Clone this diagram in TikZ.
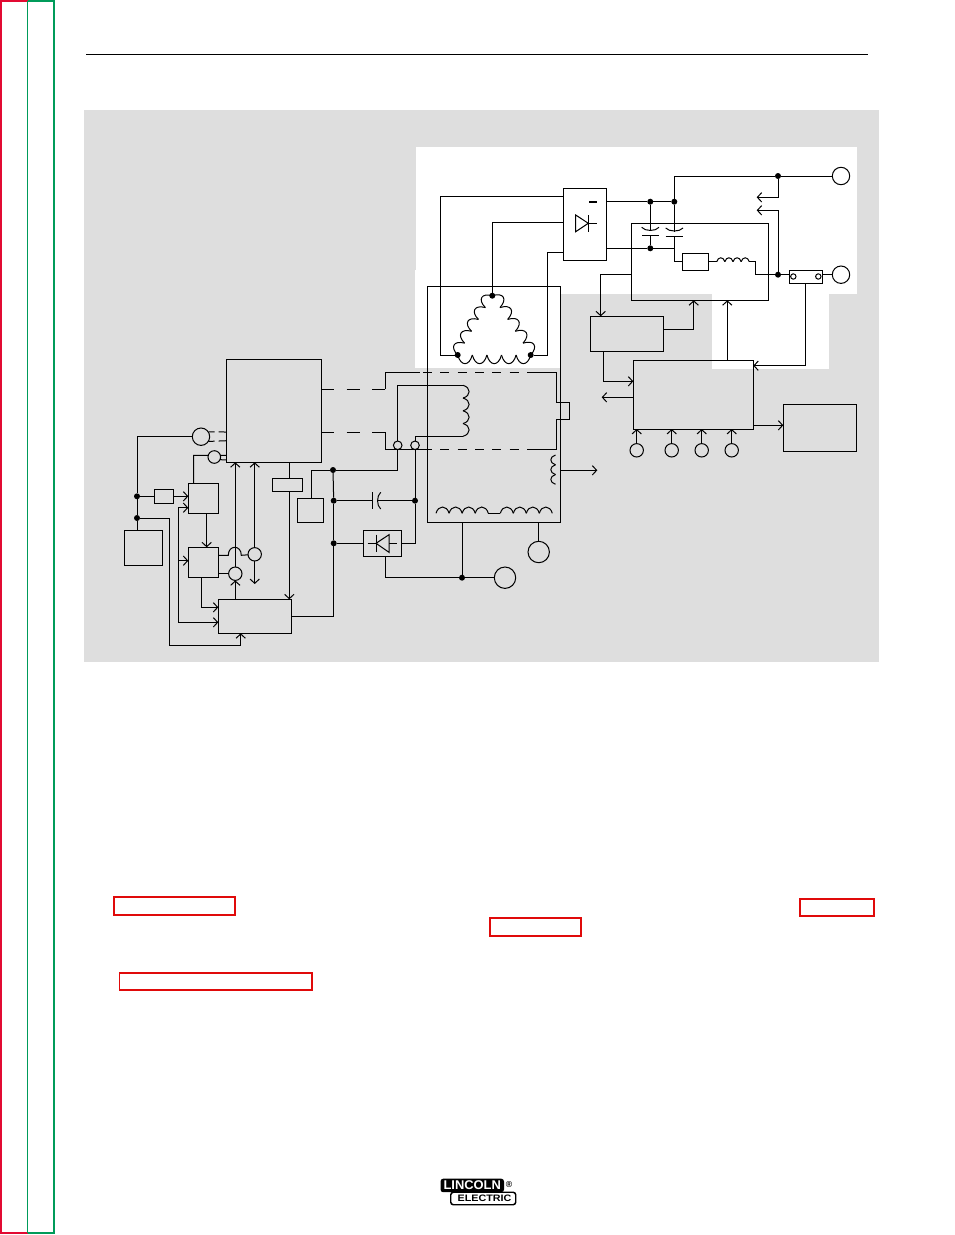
\documentclass[tikz,border=0pt]{standalone}
\usepackage{fontspec}
\setsansfont{Liberation Sans}
\usetikzlibrary{arrows.meta}
\usetikzlibrary{calc}
\definecolor{panelgrey}{RGB}{222,222,222}
\definecolor{barred}{RGB}{226,10,50}
\definecolor{bargreen}{RGB}{0,155,90}
\definecolor{xrefred}{RGB}{224,10,10}
\tikzset{every picture/.style={line width=0.75pt}}
\tikzset{
  sized/.style 2 args={minimum width=#1*0.75pt,minimum height=#2*0.75pt},
  blockbox/.style={draw,rectangle,anchor=north west,inner sep=0pt,outer sep=0pt},
  xrefbox/.style={draw=xrefred,line width=1.3pt,rectangle,anchor=north west,inner sep=0pt,outer sep=0pt},
  termnode/.style={draw,circle,inner sep=0pt,outer sep=0pt,minimum size=#1*1.5pt},
  dotnode/.style={fill=black,circle,inner sep=0pt,outer sep=0pt,minimum size=4.5pt},
  >={Straight Barb[length=3.2pt,width=7pt]}
}
% winding as a row of bumps: [looseness] from, to, count, side
\newcommand{\windrow}[5][1.7]{
  \foreach \i in {1,...,#4}
    \draw ($(#2)!{(\i-1)/#4}!(#3)$) to[bend #5=75,looseness=#1] ($(#2)!{\i/#4}!(#3)$);
}

\begin{document}
\begin{tikzpicture}[x=0.75pt,y=0.75pt,yscale=-1,xscale=1]
\useasboundingbox (0,0) rectangle (954,1235);

%Page edge bars
\draw [barred,line width=1.5pt] (27.5,1) -- (1,1) -- (1,1233) -- (27.5,1233);
\draw [bargreen,line width=1.5pt] (27.5,1) -- (53.5,1) -- (53.5,1233) -- (27.5,1233);
\draw [bargreen] (27.5,1) -- (27.5,1233);
\draw (86,54.5) -- (868,54.5);

%Panel and white patches
\fill [panelgrey] (84,110) rectangle (879,662);
\fill [white] (416,147) rectangle (857,294);
\fill [white] (415,270) rectangle (560,368);
\fill [white] (712,294) rectangle (829,369);

%Blocks
\node (rectifier) [blockbox,sized={43}{72.4}] at (563.3,188.3) {};
\node (chopper) [blockbox,sized={137}{77}] at (631.3,223.3) {};
\node (shuntres) [blockbox,sized={26}{17}] at (682.7,253.3) {};
\node (currentsense) [blockbox,sized={32.7}{13}] at (789.3,270.3) {};
\node (feedback) [blockbox,sized={73.4}{35}] at (590.3,316.3) {};
\node (controlboard) [blockbox,sized={120}{68.3}] at (633.3,360.7) {};
\node (displaybox) [blockbox,sized={73.4}{47.3}] at (783.3,404) {};
\node (stator) [blockbox,sized={132.7}{235.6}] at (427.7,286.7) {};
\node (engineblock) [blockbox,sized={94.3}{103}] at (226.7,359.3) {};
\node (startbox) [blockbox,sized={38.7}{34.6}] at (124,530.7) {};
\node (fuse) [blockbox,sized={19.4}{14.4}] at (154.3,489.3) {};
\node (relaya) [blockbox,sized={30}{30.4}] at (188.3,483.3) {};
\node (relayb) [blockbox,sized={30}{30.4}] at (188.3,547.3) {};
\node (pcboard) [blockbox,sized={73}{34}] at (218.3,599.3) {};
\node (sensebox) [blockbox,sized={30}{13}] at (272.3,478.3) {};
\node (smallbox) [blockbox,sized={26}{24}] at (297.3,498.3) {};
\node (bridge) [blockbox,sized={38.4}{26}] at (363.3,530.3) {};

%Circles
\node (outa) [termnode=8.7] at (841,176) {};
\node (outb) [termnode=8.7] at (841,274.7) {};
\node (mag) [termnode=8.7] at (201,436.7) {};
\node (igncircle) [termnode=6.3] at (214.3,457) {};
\node (sensea) [termnode=6.7] at (235.3,573.7) {};
\node (senseb) [termnode=6.7] at (254.7,554.3) {};
\node (winda) [termnode=4.3] at (397.7,445.3) {};
\node (windb) [termnode=4.3] at (415,445.3) {};
\node (gena) [termnode=10.7] at (505,577.7) {};
\node (genb) [termnode=10.7] at (538.7,552) {};
\node (sensepa) [termnode=2.7] at (793.3,276.5) {};
\node (sensepb) [termnode=2.7] at (818.3,276.5) {};

%Junction dots
\node (dotneg) [dotnode] at (650.3,201.7) {};
\node (dotnegb) [dotnode] at (674.3,201.7) {};
\node (dotmid) [dotnode] at (650.3,248.3) {};
\node (dottop) [dotnode] at (778,176) {};
\node (dotout) [dotnode] at (778,274.7) {};
\node (deltatop) [dotnode] at (492.3,295.7) {};
\node (deltaleft) [dotnode] at (457.7,355) {};
\node (deltaright) [dotnode] at (530.7,355) {};
\node (railtop) [dotnode] at (333,470) {};
\node (railcap) [dotnode] at (333.7,500.7) {};
\node (railbridge) [dotnode] at (333.7,543.3) {};
\node (capright) [dotnode] at (415,500.7) {};
\node (dotgen) [dotnode] at (462,577.7) {};
\node (busa) [dotnode] at (137,496.3) {};
\node (busb) [dotnode] at (137,518) {};

%Free ends
\coordinate (fbtipa) at (756.7,197.3);
\coordinate (fbtipb) at (756.7,210.3);
\coordinate (auxtip) at (601.7,397.3);
\coordinate (statortip) at (597.3,470.3);
\coordinate (sensetip) at (254.7,584);
\coordinate (railfork) at (178.7,560.7);

%Delta winding
\windrow[2.1]{deltaleft}{deltatop}{5}{right}
\windrow[2.1]{deltatop}{deltaright}{5}{right}
\windrow[2.1]{deltaright}{deltaleft}{5}{right}

%Rectifier and wires to delta
\draw (rectifier.west |- 0,196.7) -- (440.7,196.7) -- (440.7,355) -- (deltaleft);
\draw (rectifier.west |- 0,222.3) -- (492.3,222.3) -- (deltatop);
\draw (rectifier.west |- 0,252.7) -- (547.7,252.7) -- (547.7,355) -- (deltaright);
\draw [line width=1.2pt] (589,201.7) -- (597,201.7);
\draw (575.7,215) -- (575.7,231.7) -- (588.3,223.3) -- cycle;
\draw (588.3,215) -- (588.3,231.7);
\draw (588.3,223.3) -- (597,223.3);

%Output side
\draw (rectifier.east |- dotneg) -- (dotneg);
\draw (dotneg) -- (dotnegb);
\draw (dotnegb) -- (674.3,176) -- (dottop);
\draw (dottop) -- (outa);
\draw [->] (dottop) |- (fbtipa);
\draw [->] (dotout) |- (fbtipb);
\draw (rectifier.east |- dotmid) -- (dotmid);
\draw (dotmid) -- (674.3,248.3);

%Capacitors
\draw (dotneg) -- (650.3,231);
\draw (641.7,227.3) .. controls (645,231.5) and (655.7,231.5) .. (659,227.3);
\draw (642,235.3) -- (659,235.3);
\draw (650.3,235.3) -- (dotmid);
\draw (dotnegb) -- (674.3,231.7);
\draw (665.7,228) .. controls (669,232) and (679.7,232) .. (683,228);
\draw (665.7,236.3) -- (683,236.3);
\draw (674.3,236.3) -- (674.3,261.7) -- (shuntres.west |- 0,261.7);

%Output choke
\coordinate (chokea) at (716.7,261.7);
\coordinate (chokeb) at (749.3,261.7);
\draw (shuntres.east |- chokea) -- (chokea);
\windrow{chokea}{chokeb}{4}{right}
\draw (chokeb) -- (755,261.7) -- (755,274.7) -- (dotout);
\draw (dotout) -- (currentsense.west |- dotout);
\draw (currentsense.east |- outb) -- (outb);

%Control wiring, right side
\draw [->] (currentsense.south) |- (controlboard.east |- 0,365.7);
\draw [->] (chopper.west |- 0,274.7) -- (600.7,274.7) -- (feedback.north -| 600.7,0);
\draw [->] (feedback.east |- 0,329.3) -| (chopper.south -| 693.7,0);
\draw [->] (controlboard.north -| 727.3,0) -- (chopper.south -| 727.3,0);
\draw [->] (feedback.south -| 603.3,0) |- (controlboard.west |- 0,381.3);
\draw [->] (controlboard.west |- auxtip) -- (auxtip);
\draw [->] (controlboard.east |- 0,425.3) -- (displaybox.west |- 0,425.3);
\foreach \name/\x in {inpa/636.7,inpb/671.7,inpc/701.7,inpd/731.7}{
  \node (\name) [termnode=6.7] at (\x,450.3) {};
  \draw [->] (\name) -- (controlboard.south -| \name);
}

%Rotor leads, dashed
\draw [dash pattern=on 9.7pt off 9.5pt] (engineblock.east |- 0,389.3) -- (385,389.3);
\draw [dash pattern=on 9.7pt off 9.5pt] (engineblock.east |- 0,432) -- (385,432);
\draw (385,389.3) -- (385,372.5) -- (420,372.5);
\draw [dash pattern=on 6.7pt off 6.3pt] (423,372.5) -- (535,372.5);
\draw (535,372.5) -- (556.7,372.5) -- (556.7,402.3) -- (569.3,402.3) -- (569.3,419.3) -- (556.7,419.3) -- (556.7,449.3) -- (535,449.3);
\draw [dash pattern=on 6.7pt off 6.3pt] (423,449.3) -- (535,449.3);
\draw (385,432) -- (385,449.3) -- (423,449.3);

%Field winding
\coordinate (fielda) at (463,385.3);
\coordinate (fieldb) at (463,436.3);
\draw (winda) -- (397.7,385.3) -- (fielda);
\windrow{fielda}{fieldb}{4}{right}
\draw (fieldb) -- (415,436.3) -- (windb);

%Stator windings
\coordinate (auxa) at (555.5,455);
\coordinate (auxb) at (555.5,484.3);
\windrow{auxa}{auxb}{3}{left}
\draw [->] (stator.east |- statortip) -- (statortip);
\coordinate (mainl) at (436,513.3);
\coordinate (mainm) at (488.3,513.3);
\coordinate (mainn) at (500.3,513.3);
\coordinate (mainr) at (552.3,513.3);
\windrow{mainl}{mainm}{4}{right}
\draw (mainm) -- (mainn);
\windrow{mainn}{mainr}{4}{right}

%Rail, capacitor, bridge
\draw (winda) -- (397.7,470) -- (railtop);
\draw (windb) -- (capright);
\draw (capright) -- (415,543.3) -- (bridge.east |- railbridge);
\draw (railtop) -- (railcap);
\draw (railcap) -- (railbridge);
\draw (railbridge) -- (333.7,616) -- (pcboard.east |- 0,616);
\draw (railcap) -- (372.3,500.7);
\draw (372.3,492.3) -- (372.3,509);
\draw (380.7,492.3) .. controls (376.5,496) and (376.5,505.5) .. (380.7,509);
\draw (377.5,500.7) -- (capright);
\draw (railbridge) -- (bridge.west |- railbridge);
\draw (376,543.3) -- (389,534.7) -- (389,552.3) -- cycle;
\draw (376,534.7) -- (376,552.3);
\draw (367.7,543.3) -- (376,543.3);
\draw (389,543.3) -- (397.3,543.3);
\draw (bridge.south -| 385,0) |- (dotgen);
\draw (dotgen) -- (gena);
\draw (dotgen) -- (stator.south -| dotgen);
\draw (genb) -- (stator.south -| genb);
\draw (smallbox.north -| 311.7,0) |- (railtop);

%Engine block side
\draw (mag) -- (137,436.7) -- (busa);
\draw (busa) -- (busb);
\draw (busb) -- (startbox.north -| busb);
\draw [dash pattern=on 6pt off 3pt] (engineblock.west |- 0,432) -- (mag.33);
\draw [dash pattern=on 6pt off 3pt] (engineblock.west |- 0,440.7) -- (mag.-33);
\draw (engineblock.west |- 0,455.3) -- (igncircle.15);
\draw (engineblock.west |- 0,460) -- (igncircle.-25);
\draw (igncircle.165) -- (193.7,455.3) -- (relaya.north -| 193.7,0);
\draw (busa) -- (fuse.west |- busa);
\draw [->] (fuse.east |- busa) -- (relaya.west |- busa);
\draw [->] (relaya.south -| 206.7,0) -- (relayb.north -| 206.7,0);
\draw [<->] (relaya.west |- 0,507.7) -- (178.7,507.7) -- (178.7,622.3) -- (pcboard.west |- 0,622.3);
\draw [->] (railfork) -- (relayb.west |- railfork);
\draw [->] (relayb.south -| 201.7,0) |- (pcboard.west |- 0,607.3);
\draw (relayb.east |- 0,555.3) -- (228.3,555.3) .. controls (228.3,544.6) and (241.3,544.6) .. (241.3,555.3) -- (senseb);
\draw [->] (senseb) -- (engineblock.south -| senseb);
\draw [->] (senseb) -- (sensetip);
\draw (relayb.east |- sensea) -- (sensea);
\draw [->] (sensea) -- (engineblock.south -| sensea);
\draw [->] (pcboard.north -| sensea) -- (sensea);
\draw (engineblock.south -| 289.3,0) -- (sensebox.north -| 289.3,0);
\draw [->] (sensebox.south -| 289.3,0) -- (pcboard.north -| 289.3,0);
\draw [->] (busb) -- (169.3,518) -- (169.3,645.7) -- (240.7,645.7) -- (pcboard.south -| 240.7,0);

%Cross reference frames
\node (xrefa) [xrefbox,sized={121}{18}] at (114,897) {};
\node (xrefb) [xrefbox,sized={74}{17}] at (800,899) {};
\node (xrefc) [xrefbox,sized={91}{18}] at (490,918) {};
\node (xrefd) [xrefbox,sized={192.5}{17}] at (119.5,973) {};

%Logo
\node (logolower) [draw,line width=1.1pt,fill=white,rounded corners=2pt,anchor=north west,inner sep=0pt,sized={65}{12.5},font=\sffamily\bfseries\fontsize{7}{7}\selectfont] at (450,1191.5) {\hspace*{2pt}\scalebox{1.15}[1]{ELECTRIC}};
\node (logoupper) [fill=black,text=white,rounded corners=2pt,anchor=north west,inner sep=0pt,sized={63.5}{13.5},font=\sffamily\bfseries\fontsize{9.5}{9.5}\selectfont] at (440,1178.2) {\scalebox{1.02}[1]{LINCOLN}};
\node (logoreg) [inner sep=0pt,font=\sffamily\bfseries\fontsize{6.5}{6.5}\selectfont] at (509,1184) {\textregistered};

\end{tikzpicture}
\end{document}
